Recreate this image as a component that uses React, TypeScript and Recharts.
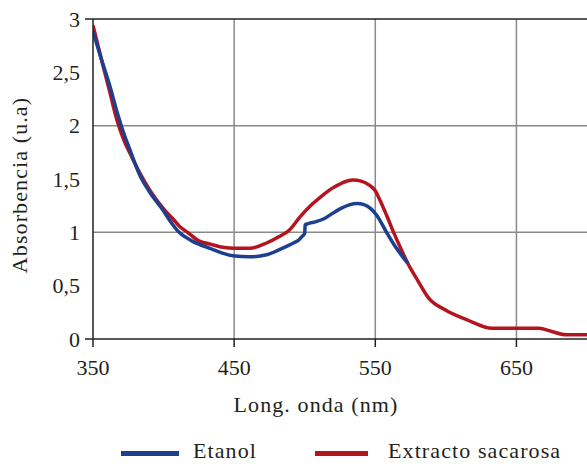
import React from 'react';
import { LineChart, Line, XAxis, YAxis, ReferenceLine } from 'recharts';

const xTicks = [350, 450, 550, 650];
const yTicks = [0, 0.5, 1, 1.5, 2, 2.5, 3];
const seriesNames = ['Etanol', 'Extracto sacarosa'];

const etanolNm = [350, 356, 362, 367, 371, 376, 383, 390, 400, 405, 411, 420, 433, 449, 461, 473, 484, 492, 496, 498, 500, 500.3, 502, 508, 514, 520, 525, 532, 537, 542, 547, 551, 558, 565, 573];
const etanolAbs = [2.88, 2.62, 2.37, 2.13, 1.96, 1.78, 1.54, 1.38, 1.2, 1.1, 1.0, 0.92, 0.85, 0.78, 0.77, 0.79, 0.85, 0.9, 0.93, 0.96, 0.99, 1.07, 1.08, 1.1, 1.13, 1.18, 1.22, 1.26, 1.27, 1.26, 1.22, 1.16, 1.0, 0.85, 0.71];

const sacarosaNm = [350, 356, 362, 367, 372, 377, 383, 390, 400, 407, 411, 417, 425, 433, 442, 450, 461, 473, 482, 489, 497, 505, 512, 519, 526, 534, 540, 546, 550, 553, 558, 563, 568, 573, 580, 588, 600, 615, 633, 650, 666, 675, 685, 700];
const sacarosaAbs = [2.94, 2.62, 2.31, 2.05, 1.86, 1.72, 1.56, 1.4, 1.22, 1.12, 1.06, 1.0, 0.92, 0.89, 0.86, 0.85, 0.85, 0.9, 0.96, 1.02, 1.15, 1.26, 1.34, 1.41, 1.46, 1.49, 1.48, 1.44, 1.39, 1.31, 1.16, 1.0, 0.85, 0.71, 0.55, 0.38, 0.27, 0.18, 0.1, 0.1, 0.1, 0.07, 0.04, 0.04];

const etanolData = etanolNm.map((nm, i) => ({ nm, v: etanolAbs[i] }));
const sacarosaData = sacarosaNm.map((nm, i) => ({ nm, v: sacarosaAbs[i] }));

const BLUE = '#1c3f8f';
const RED = '#b3141d';
const TEXT = '#231f20';
const GRID = '#8a8a8a';
const FONT = '"Liberation Serif", "Times New Roman", serif';

const XTick = (props: any) => {
  const { x, y, payload } = props;
  return (
    <text x={x} y={y + 26} textAnchor="middle" fill={TEXT} fontSize={22} fontFamily={FONT}>
      {String(payload.value)}
    </text>
  );
};

const YTick = (props: any) => {
  const { x, y, payload } = props;
  const v = payload.value;
  const edge = v === 0 || v === 3;
  return (
    <g>
      {edge && <line x1={x + 5} x2={x + 13} y1={y} y2={y} stroke={TEXT} strokeWidth={1.5} />}
      <text x={x} y={y} dy={7.5} textAnchor="end" fill={TEXT} fontSize={22} fontFamily={FONT}>
        {String(v).replace('.', ',')}
      </text>
    </g>
  );
};

const XLabel = () => (
  <text x={316} y={412} textAnchor="middle" fill={TEXT} fontSize={22} fontFamily={FONT} letterSpacing={1.1}>
    Long. onda (nm)
  </text>
);

const YLabel = () => (
  <text x={27} y={185} transform="rotate(-90 27 185)" textAnchor="middle" fill={TEXT} fontSize={22} fontFamily={FONT} letterSpacing={1.1}>
    Absorbencia (u.a)
  </text>
);

export default function App() {
  const legendText: React.CSSProperties = {
    position: 'absolute',
    fontFamily: FONT,
    fontSize: 22,
    letterSpacing: 1.1,
    color: TEXT,
    lineHeight: '18px',
    whiteSpace: 'nowrap',
  };
  return (
    <div style={{ position: 'absolute', left: 0, top: 0, width: 587, height: 464, background: '#fff', overflow: 'hidden' }}>
      <LineChart width={587} height={464} data={sacarosaData} margin={{ top: 19, right: 0, bottom: 85, left: 0 }}>
        <XAxis
          type="number"
          dataKey="nm"
          domain={[350, 700]}
          ticks={xTicks}
          height={40}
          tickSize={8}
          stroke={TEXT}
          strokeWidth={1.5}
          tick={<XTick />}
          label={<XLabel />}
          allowDataOverflow
        />
        <YAxis
          type="number"
          dataKey="v"
          domain={[0, 3]}
          ticks={yTicks}
          width={93}
          tickLine={false}
          tickSize={8}
          tickMargin={5}
          stroke={TEXT}
          strokeWidth={1.5}
          tick={<YTick />}
          label={<YLabel />}
          interval={0}
          allowDataOverflow
        />
        <ReferenceLine y={1} stroke={GRID} strokeWidth={1.5} />
        <ReferenceLine y={2} stroke={GRID} strokeWidth={1.5} />
        <ReferenceLine x={450} stroke={GRID} strokeWidth={1.5} />
        <ReferenceLine x={550} stroke={GRID} strokeWidth={1.5} />
        <ReferenceLine x={650} stroke={GRID} strokeWidth={1.5} />
        <ReferenceLine y={3} stroke={TEXT} strokeWidth={1.5} />
        <Line
          data={sacarosaData}
          dataKey="v"
          name={seriesNames[1]}
          type="monotone"
          stroke={RED}
          strokeWidth={3.5}
          dot={false}
          isAnimationActive={false}
        />
        <Line
          data={etanolData}
          dataKey="v"
          name={seriesNames[0]}
          type="monotone"
          stroke={BLUE}
          strokeWidth={3.5}
          dot={false}
          isAnimationActive={false}
        />
      </LineChart>
      <div style={{ position: 'absolute', left: 121, top: 451, width: 58, height: 5, background: BLUE }} />
      <div style={{ ...legendText, left: 193, top: 442 }}>{seriesNames[0]}</div>
      <div style={{ position: 'absolute', left: 315, top: 451, width: 53, height: 5, background: RED }} />
      <div style={{ ...legendText, left: 388, top: 442 }}>{seriesNames[1]}</div>
    </div>
  );
}
